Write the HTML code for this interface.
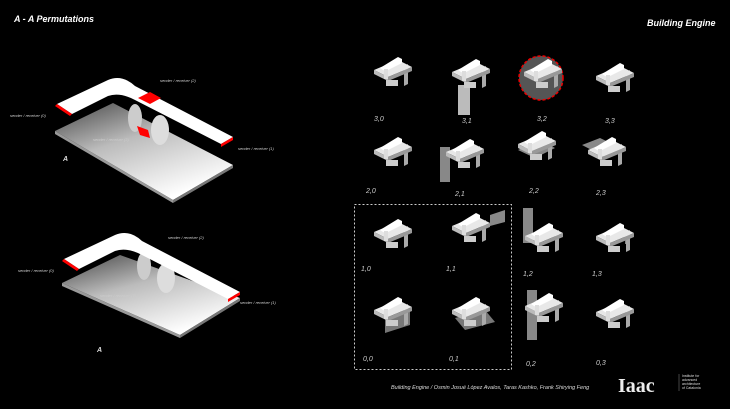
<!DOCTYPE html>
<html><head><style>
html,body{margin:0;padding:0;background:#000;width:730px;height:409px;overflow:hidden}
svg{display:block}
text{font-family:"Liberation Sans",sans-serif;font-style:italic;fill:#ddd}
.s{font-size:4px;fill:#ccc}
.l{font-size:7px;fill:#ccc}
</style></head><body>
<svg width="730" height="409" viewBox="0 0 730 409">
<defs>
<linearGradient id="pl" x1="0" y1="0" x2="0.6" y2="1">
<stop offset="0" stop-color="#444"/><stop offset="0.45" stop-color="#bbb"/><stop offset="1" stop-color="#fff"/>
</linearGradient>
<g id="ic">
<polygon points="30,10 34,8 34,28 30,30" fill="#aaa"/>
<polygon points="0,14 24,4 38,11 14,21" fill="#e8e8e8"/>
<polygon points="0,14 14,21 14,25 0,18" fill="#bbb"/>
<polygon points="14,21 38,11 38,15 14,25" fill="#999"/>
<path d="M6,12 L24,1 L28,3 L28,7 L12,15 L9,14 Z" fill="#fff"/>
<rect x="10" y="13" width="4" height="10" fill="#ddd"/>
<rect x="12" y="24" width="12" height="6" fill="#ccc"/>
</g>
</defs>
<text x="14" y="22" style="font-size:9px;font-weight:bold;fill:#fff">A - A Permutations</text>
<text x="647" y="26" style="font-size:9px;font-weight:bold;fill:#fff">Building Engine</text>

<!-- top diagram -->
<polygon points="55,131 113,103 233,165 173,200" fill="url(#pl)"/>
<polygon points="55,131 173,200 173,203 55,134" fill="#999"/>
<polygon points="173,200 233,165 233,168 173,203" fill="#777"/>
<ellipse cx="135" cy="118" rx="7" ry="14" fill="#ccc"/>
<ellipse cx="160" cy="130" rx="9" ry="15" fill="#ddd"/>
<path d="M57,104 L108,80 Q122,74 135,86 L233,137 L221,144 L135,100 Q120,92 108,96 L72,114 Z" fill="#fff"/>
<polygon points="57,104 72,114 70,116 55,106" fill="#f00"/>
<polygon points="221,144 233,137 233,140 221,147" fill="#f00"/>
<polygon points="138,98 150,92 161,98 150,104" fill="#f00"/>
<polygon points="137,126 148,130 150,138 140,135" fill="#f00"/>
<text class="s" x="160" y="82">sender / receiver (2)</text>
<text class="s" x="10" y="117">sender / receiver (0)</text>
<text class="s" x="93" y="141">sender / receiver (3)</text>
<text class="s" x="238" y="150">sender / receiver (1)</text>
<text x="63" y="161" style="font-size:7px;font-weight:bold">A</text>

<!-- bottom diagram -->
<polygon points="62,283 120,255 240,298 180,335" fill="url(#pl)"/>
<polygon points="62,283 180,335 180,338 62,286" fill="#999"/>
<polygon points="180,335 240,298 240,301 180,338" fill="#777"/>
<ellipse cx="144" cy="266" rx="7" ry="14" fill="#ccc"/>
<ellipse cx="166" cy="278" rx="9" ry="15" fill="#ddd"/>
<path d="M64,259 L115,235 Q129,229 142,241 L240,292 L228,299 L142,255 Q127,247 115,251 L79,269 Z" fill="#fff"/>
<polygon points="64,259 79,269 77,271 62,261" fill="#f00"/>
<polygon points="228,299 240,292 240,295 228,302" fill="#f00"/>
<text class="s" x="168" y="239">sender / receiver (2)</text>
<text class="s" x="18" y="272">sender / receiver (0)</text>
<text class="s" x="100" y="297">sender / receiver (3)</text>
<text class="s" x="240" y="304">sender / receiver (1)</text>
<text x="97" y="352" style="font-size:7px;font-weight:bold">A</text>

<!-- extra grey panels -->
<rect x="458" y="85" width="12" height="30" fill="#bbb"/>
<rect x="440" y="147" width="10" height="35" fill="#888"/>
<polygon points="518,150 540,140 555,148 535,158" fill="#888"/>
<polygon points="582,145 600,138 625,150 607,158" fill="#888"/>
<rect x="523" y="208" width="10" height="35" fill="#888"/>
<path d="M622,230 q8,-3 8,8 v6 h-5 v-6 z" fill="#888"/>
<polygon points="490,215 505,210 505,222 490,226" fill="#888"/>
<polygon points="385,318 410,310 410,325 385,333" fill="#777"/>
<polygon points="455,318 485,310 495,322 465,330" fill="#777"/>
<rect x="527" y="290" width="10" height="50" fill="#888"/>
<circle cx="541" cy="78" r="22" fill="#555" stroke="#e00" stroke-width="1.5" stroke-dasharray="3,2"/>

<!-- icons -->
<use href="#ic" x="374" y="56"/><use href="#ic" x="452" y="58"/><use href="#ic" x="524" y="58"/><use href="#ic" x="596" y="62"/>
<use href="#ic" x="374" y="136"/><use href="#ic" x="446" y="138"/><use href="#ic" x="518" y="130"/><use href="#ic" x="588" y="136"/>
<use href="#ic" x="374" y="218"/><use href="#ic" x="452" y="212"/><use href="#ic" x="525" y="222"/><use href="#ic" x="596" y="222"/>
<use href="#ic" x="374" y="296"/><use href="#ic" x="452" y="296"/><use href="#ic" x="525" y="292"/><use href="#ic" x="596" y="298"/>

<rect x="354.5" y="204.5" width="157" height="165" fill="none" stroke="#ccc" stroke-width="1" stroke-dasharray="2,2"/>

<text class="l" x="374" y="121">3,0</text><text class="l" x="462" y="123">3,1</text><text class="l" x="537" y="121">3,2</text><text class="l" x="605" y="123">3,3</text>
<text class="l" x="366" y="193">2,0</text><text class="l" x="455" y="196">2,1</text><text class="l" x="529" y="193">2,2</text><text class="l" x="596" y="195">2,3</text>
<text class="l" x="361" y="271">1,0</text><text class="l" x="446" y="271">1,1</text><text class="l" x="523" y="276">1,2</text><text class="l" x="592" y="276">1,3</text>
<text class="l" x="363" y="361">0,0</text><text class="l" x="449" y="361">0,1</text><text class="l" x="526" y="366">0,2</text><text class="l" x="596" y="365">0,3</text>

<text x="391" y="389" style="font-size:5.5px">Building Engine  / Osmin Josué López Avalos, Taras Kashko, Frank Shirying Feng</text>
<text x="618" y="392" style="font-size:20px;font-weight:bold;font-style:normal;font-family:'Liberation Serif',serif;fill:#eee">Iaac</text>
<line x1="679" y1="374" x2="679" y2="391" stroke="#888" stroke-width="0.5"/>
<text x="682" y="377" style="font-size:3.5px;font-style:normal">Institute for</text>
<text x="682" y="381" style="font-size:3.5px;font-style:normal">advanced</text>
<text x="682" y="385" style="font-size:3.5px;font-style:normal">architecture</text>
<text x="682" y="389" style="font-size:3.5px;font-style:normal">of Catalonia</text>
</svg>
</body></html>
